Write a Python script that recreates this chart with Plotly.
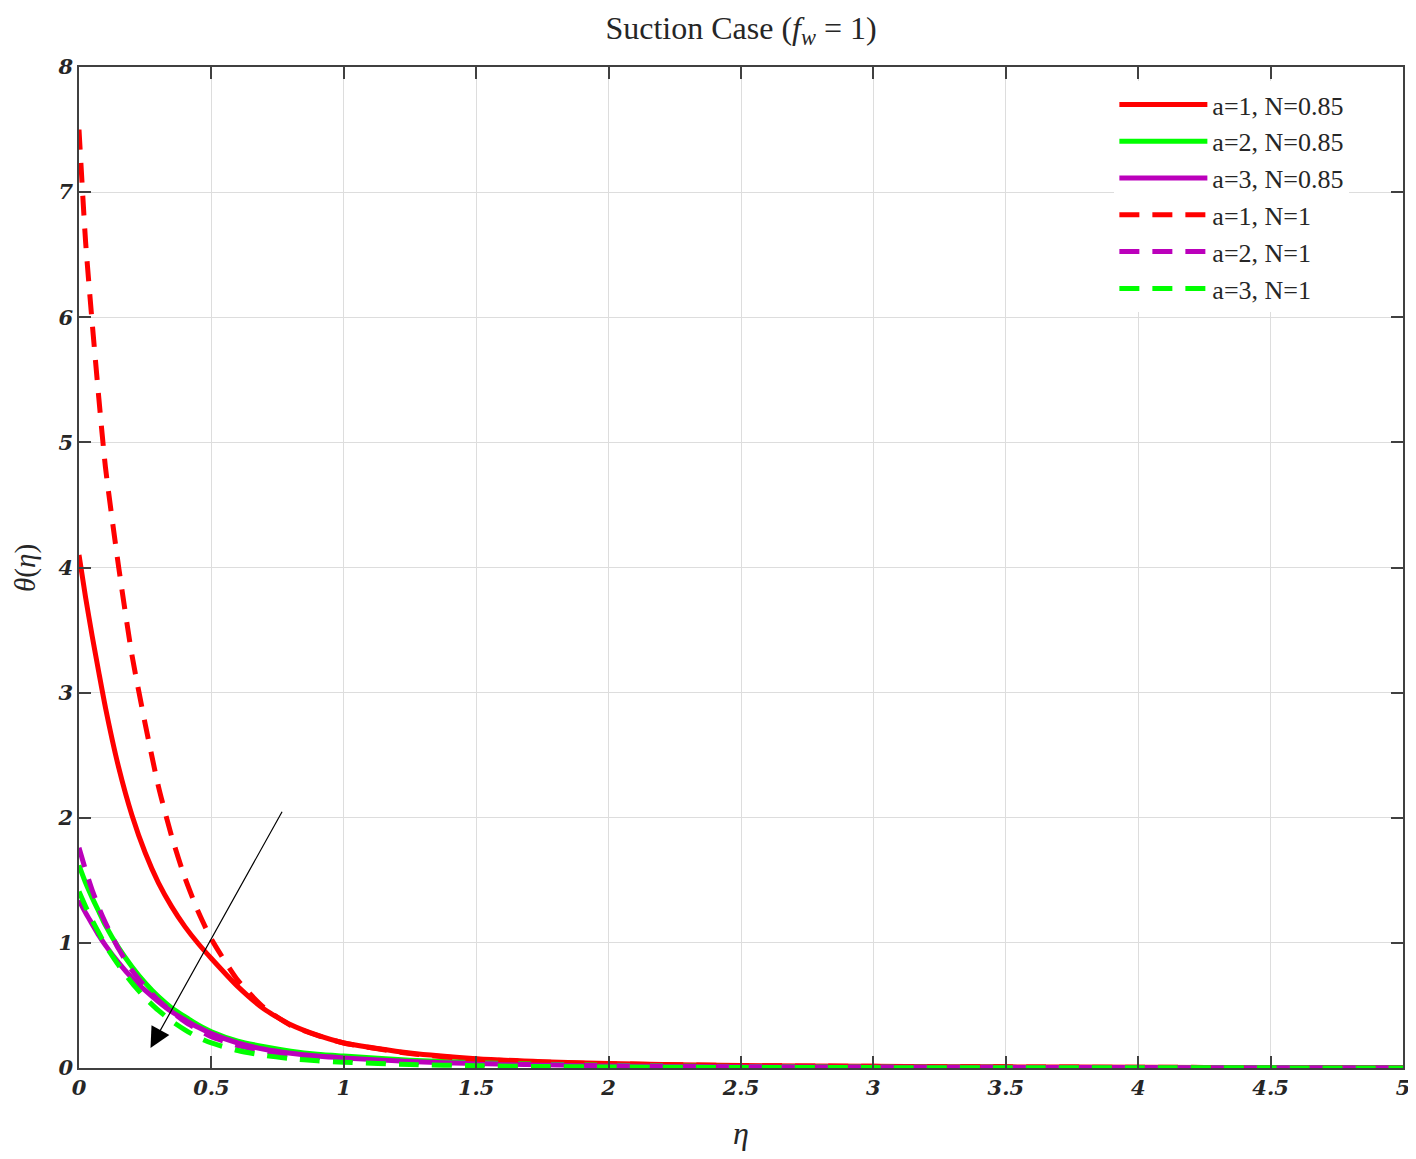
import plotly.graph_objects as go

eta = [0, 0.025, 0.05, 0.075, 0.1, 0.15, 0.2, 0.25, 0.3, 0.35, 0.4, 0.45, 0.5,
       0.6, 0.7, 0.8, 0.9, 1.0, 1.25, 1.5, 1.75, 2, 2.5, 3, 3.5, 4, 4.5, 5]

theta_a1_n085 = [4.1, 3.76, 3.45, 3.16, 2.88, 2.4, 2.02, 1.72, 1.48, 1.29, 1.13, 0.995, 0.875,
                 0.65, 0.47, 0.345, 0.262, 0.2, 0.12, 0.075, 0.05, 0.035, 0.02, 0.013, 0.009, 0.006, 0.004, 0.003]
theta_a2_n085 = [1.62, 1.48, 1.36, 1.25, 1.14, 0.96, 0.81, 0.68, 0.57, 0.48, 0.41, 0.345, 0.29,
                 0.215, 0.17, 0.135, 0.11, 0.095, 0.062, 0.042, 0.03, 0.022, 0.012, 0.008, 0.005, 0.004, 0.003, 0.002]
theta_a3_n085 = [1.34, 1.24, 1.15, 1.06, 0.98, 0.84, 0.72, 0.62, 0.53, 0.45, 0.385, 0.325, 0.275,
                 0.2, 0.15, 0.118, 0.095, 0.08, 0.052, 0.035, 0.025, 0.018, 0.01, 0.007, 0.005, 0.003, 0.002, 0.002]
theta_a1_n1 = [7.5, 6.6, 5.95, 5.35, 4.8, 4.0, 3.3, 2.75, 2.25, 1.85, 1.52, 1.25, 1.03,
               0.7, 0.48, 0.34, 0.26, 0.2, 0.115, 0.07, 0.048, 0.034, 0.02, 0.013, 0.009, 0.006, 0.004, 0.003]
theta_a2_n1 = [1.76, 1.58, 1.42, 1.28, 1.16, 0.95, 0.78, 0.65, 0.54, 0.45, 0.37, 0.305, 0.25,
               0.18, 0.135, 0.105, 0.085, 0.07, 0.045, 0.03, 0.022, 0.016, 0.009, 0.006, 0.004, 0.003, 0.002, 0.001]
theta_a3_n1 = [1.41, 1.29, 1.18, 1.08, 0.98, 0.82, 0.68, 0.56, 0.46, 0.375, 0.305, 0.245, 0.2,
               0.14, 0.1, 0.075, 0.058, 0.046, 0.028, 0.018, 0.012, 0.008, 0.004, 0.003, 0.002, 0.001, 0.001, 0.0]

x_ticks = [0, 0.5, 1, 1.5, 2, 2.5, 3, 3.5, 4, 4.5, 5]
x_tick_labels = ["0", "0.5", "1", "1.5", "2", "2.5", "3", "3.5", "4", "4.5", "5"]
y_ticks = [0, 1, 2, 3, 4, 5, 6, 7, 8]
y_tick_labels = ["0", "1", "2", "3", "4", "5", "6", "7", "8"]

RED = "#FF0000"
GREEN = "#00FF00"
PURPLE = "#BB00BB"
DASH = "20px,13px"

series = [
    ("a=1, N=0.85", theta_a1_n085, RED, "solid"),
    ("a=2, N=0.85", theta_a2_n085, GREEN, "solid"),
    ("a=3, N=0.85", theta_a3_n085, PURPLE, "solid"),
    ("a=1, N=1", theta_a1_n1, RED, DASH),
    ("a=2, N=1", theta_a2_n1, PURPLE, DASH),
    ("a=3, N=1", theta_a3_n1, GREEN, DASH),
]

fig = go.Figure()
for name, vals, color, dash in series:
    fig.add_trace(go.Scatter(
        x=eta, y=vals, mode="lines", name=name,
        line=dict(color=color, width=5, dash=dash, shape="spline", smoothing=0.6),
    ))

serif = "Liberation Serif, DejaVu Serif, serif"
TXT = "#262626"
tickfont = dict(family="DejaVu Serif", size=21, color=TXT, weight="bold", style="italic")

axis_common = dict(
    showline=True, linecolor="#404040", linewidth=1.5, mirror="ticks",
    ticks="inside", ticklen=12, tickwidth=1.5, tickcolor="#404040",
    showgrid=True, gridcolor="#DDDDDD", gridwidth=1, zeroline=False,
    tickfont=tickfont, automargin=False, ticklabeloverflow="allow",
)

# page body has an 8px margin, so the figure is drawn 8px in from the window edge
fig.update_layout(
    width=1408, height=1143,
    paper_bgcolor="white", plot_bgcolor="white",
    margin=dict(l=71, r=13, t=59, b=83),
    title=dict(
        text="Suction Case (<i>f</i><sub><i>w</i></sub> = 1)",
        x=0.5, xanchor="center", xref="paper", yref="container", y=0.983, yanchor="middle",
        font=dict(family=serif, size=32, color=TXT),
    ),
    xaxis=dict(
        range=[0, 5], tickvals=x_ticks, ticktext=x_tick_labels,
        title=dict(text="<i>η</i>", font=dict(family=serif, size=32, color=TXT), standoff=24),
        **axis_common,
    ),
    yaxis=dict(
        range=[0, 8], tickvals=y_ticks, ticktext=y_tick_labels,
        **axis_common,
    ),
    legend=dict(
        x=0.782, y=0.986, xanchor="left", yanchor="top",
        bgcolor="white", borderwidth=0,
        font=dict(family=serif, size=26, color=TXT),
        tracegroupgap=0, itemwidth=88,
    ),
    showlegend=True,
)

fig.add_annotation(
    text="<i>θ</i>(<i>η</i>)", xref="paper", yref="paper",
    x=-0.0405, y=0.5, textangle=-90, showarrow=False,
    xanchor="center", yanchor="middle",
    font=dict(family=serif, size=29, color=TXT),
)

fig.add_annotation(
    x=0.27, y=0.16, ax=0.77, ay=2.06,
    xref="x", yref="y", axref="x", ayref="y",
    showarrow=True, arrowhead=2, arrowsize=3.4, arrowwidth=1.2, arrowcolor="black", text="",
)

fig.write_html("out.html")
